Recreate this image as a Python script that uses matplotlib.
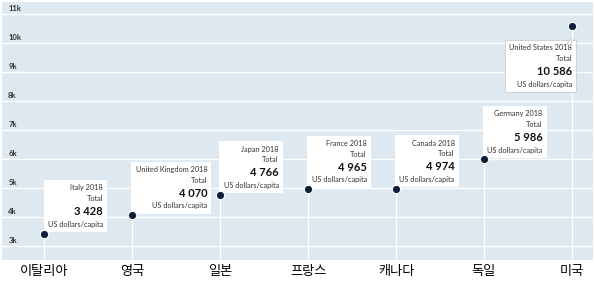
import matplotlib.pyplot as plt
from matplotlib.offsetbox import TextArea, VPacker, AnnotationBbox
from matplotlib.patches import Polygon
from matplotlib.transforms import ScaledTranslation

plt.rcParams["font.family"] = ["Lato", "DejaVu Sans"]

countries_ko = ["이탈리아", "영국", "일본", "프랑스", "캐나다", "독일", "미국"]
countries_en = ["Italy", "United Kingdom", "Japan", "France", "Canada", "Germany", "United States"]
values = [3428, 4070, 4766, 4965, 4974, 5986, 10586]
yticks = [3000, 4000, 5000, 6000, 7000, 8000, 9000, 10000, 11000]
ytick_labels = ["3k", "4k", "5k", "6k", "7k", "8k", "9k", "10k", "11k"]
year = 2018

bg = "#dde8f0"
navy = "#0c1e3a"

fig = plt.figure(figsize=(5.95, 2.82), dpi=100)
ax = fig.add_axes([2/595, 22/282, 591/595, 258/282])
ax.set_facecolor(bg)
ax.set_xlim(-0.48, 6.24)
ax.set_ylim(2517, 11414)
for s in ax.spines.values():
    s.set_visible(False)

xs = list(range(len(values)))

# horizontal grid + labels sitting on the lines
for t, lab in zip(yticks, ytick_labels):
    ax.axhline(t, color="white", lw=1.0, zorder=1)
    ax.annotate(lab, xy=(0, t), xycoords=("axes fraction", "data"),
                xytext=(4.5, 1.5), textcoords="offset points",
                ha="left", va="bottom", fontsize=5.5, fontweight="bold", color="#333333")
ax.set_yticks([])

# drop lines from each point to the bottom
ax.vlines(xs, 2517, values, color="white", lw=1.0, zorder=2)

ax.plot(xs, values, "o", ls="none", ms=6, color=navy, mec="white", mew=0.8, zorder=5)

ax.set_xticks(xs)
ax.set_xticklabels(countries_ko, fontsize=9.5, family=["Noto Sans CJK KR", "DejaVu Sans"])
ax.tick_params(axis="x", length=0, pad=3.5, colors="black")

# tooltip boxes
for i, (name, v) in enumerate(zip(countries_en, values)):
    lines = [
        TextArea(f"{name} {year}", textprops=dict(fontsize=5.3, color="#333333")),
        TextArea("Total", textprops=dict(fontsize=5.3, color="#333333")),
        TextArea(f"{v:,}".replace(",", " "), textprops=dict(fontsize=8, fontweight="bold", color="#111111")),
        TextArea("US dollars/capita", textprops=dict(fontsize=5.3, color="#333333")),
    ]
    pack = VPacker(children=lines, align="right", pad=0, sep=2.8)
    if i == len(values) - 1:
        ab = AnnotationBbox(pack, (i, v), xybox=(0, -13), boxcoords="offset points",
                            box_alignment=(1, 1), frameon=True, pad=0.5,
                            bboxprops=dict(boxstyle="square", fc="white", ec="#cccccc", lw=0.6))
        # little pointer at the top-right corner of the box
        tr = fig.dpi_scale_trans + ScaledTranslation(i, v, ax.transData)
        tri = Polygon([(-4.5/72, -13.3/72), (-0.3/72, -13.3/72), (-0.3/72, -8.5/72)],
                      closed=True, transform=tr, fc="white", ec="#cccccc", lw=0.6, zorder=4.5)
        ax.add_patch(tri)
    else:
        ab = AnnotationBbox(pack, (i, v), xybox=(2.5, 4), boxcoords="offset points",
                            box_alignment=(0, 0), frameon=True, pad=0.5,
                            bboxprops=dict(boxstyle="square", fc="white", ec="none"))
    ab.set_zorder(4)
    ax.add_artist(ab)

fig.savefig("out.png", dpi=100)
